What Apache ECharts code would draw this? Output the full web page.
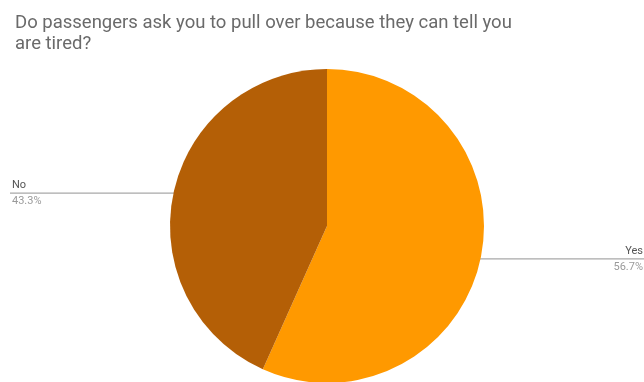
<!DOCTYPE html>
<html>
<head>
<meta charset="utf-8">
<script src="https://cdn.jsdelivr.net/npm/echarts@6/dist/echarts.min.js"></script>
<style>
  html, body { margin: 0; padding: 0; background: #fff; }
  #chart { width: 644px; height: 382px; }
</style>
</head>
<body>
<div id="chart"></div>
<script>
const titleText = 'Do passengers ask you to pull over because they can tell you\nare tired?';
const categories = ['Yes', 'No'];
const shares = [56.7, 43.3];
const colors = ['#FF9900', '#B45F06'];

const chart = echarts.init(document.getElementById('chart'), null, { renderer: 'canvas' });

const W = 644;

chart.setOption({
  animation: false,
  backgroundColor: '#ffffff',
  title: {
    text: titleText,
    left: 10,
    top: 8,
    textStyle: {
      fontFamily: 'Roboto',
      fontSize: 18.5,
      fontWeight: 'normal',
      color: '#6a6a6a',
      lineHeight: 21
    }
  },
  series: [{
    type: 'pie',
    center: [327, 226],
    radius: 157,
    startAngle: 90,
    clockwise: true,
    percentPrecision: 1,
    data: categories.map((c, i) => ({ name: c, value: shares[i], itemStyle: { color: colors[i] } })),
    label: {
      show: true,
      formatter: '{n|{b}}\n{p|{d}%}',
      rich: {
        n: { fontFamily: 'Roboto', fontSize: 11, color: '#555555', lineHeight: 16 },
        p: { fontFamily: 'Roboto', fontSize: 11, color: '#9a9a9a', lineHeight: 16 }
      }
    },
    labelLine: {
      show: true,
      length: 0,
      length2: 40,
      lineStyle: { color: '#a8a8a8', width: 1.2 }
    },
    labelLayout: function (p) {
      // Straight horizontal leader from the slice edge out to the chart border
      const pts = p.labelLinePoints;
      const left = pts[0][0] < W / 2;
      const y = pts[0][1];
      const startX = pts[0][0] + (left ? 7 : -7);
      const endX = left ? 10 : W;
      return {
        x: left ? 12 : W - 1,
        y: y,
        align: left ? 'left' : 'right',
        verticalAlign: 'middle',
        labelLinePoints: [[startX, y], [(startX + endX) / 2, y], [endX, y]]
      };
    }
  }]
});
</script>
</body>
</html>
